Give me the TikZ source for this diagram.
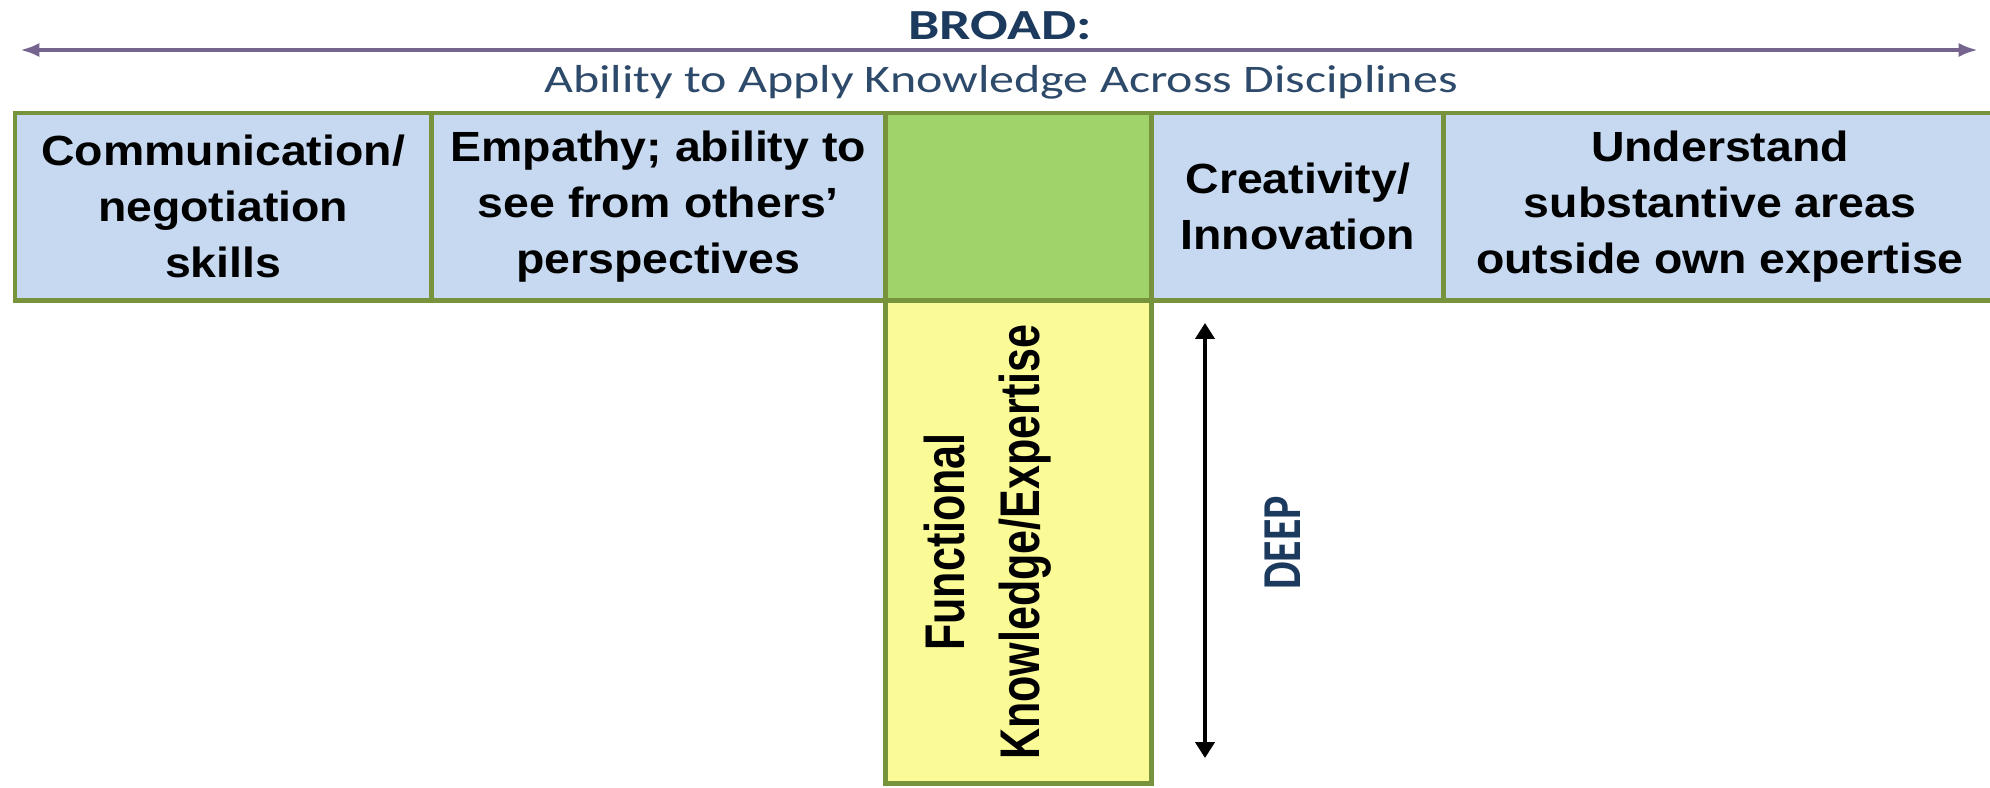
\documentclass[tikz,border=0pt]{standalone}
\usepackage{fontspec}
\usetikzlibrary{positioning,arrows.meta}
\newfontfamily\boxfont[FakeStretch=1.1]{Liberation Sans}
\newfontfamily\yellowfont[FakeStretch=0.77]{Liberation Sans}
\newfontfamily\deepfont[FakeStretch=0.8]{Carlito}
\newfontfamily\broadfont[FakeStretch=1.3]{Carlito}
\newfontfamily\abilityfont[FakeStretch=1.28]{Carlito}
\definecolor{rim}{HTML}{77933C}
\definecolor{skyfill}{HTML}{C6D9F0}
\definecolor{leaf}{HTML}{A0D36A}
\definecolor{lemon}{HTML}{FAFA96}
\definecolor{navy}{HTML}{1B3A5E}
\definecolor{slate}{HTML}{2E4A6A}
\definecolor{lilac}{HTML}{74648E}

\begin{document}
\begin{tikzpicture}[x=0.01cm,y=-0.01cm]
%\draw[help lines,step=100] (0,0) grid (1990,787);
\tikzstyle{v}=[rectangle,draw=rim,line width=1.4pt,outer sep=0pt,inner sep=0pt,minimum height=1.87cm,align=center,font=\boxfont\bfseries\fontsize{12}{15.9}\selectfont]
\tikzstyle{broad}=[{Latex[length=5.5pt,width=4pt]}-{Latex[length=5.5pt,width=4pt]},draw=lilac,line width=1.1pt]
\tikzstyle{deep}=[{Triangle[length=4.5pt,width=5.4pt]}-{Triangle[length=4.5pt,width=5.4pt]},line width=1pt]
\useasboundingbox (0,0) rectangle (1990,787);

\node[v,fill=skyfill,minimum width=4.16cm,anchor=north west] (a) at (15,113) {Communication/\\negotiation\\skills};
\node[v,fill=skyfill,minimum width=4.54cm,right=0pt of a] (b) {Empathy; ability to\\see from others’\\perspectives};
\node[v,fill=leaf,minimum width=2.66cm,right=0pt of b] (c) {};
\node[v,fill=skyfill,minimum width=2.92cm,right=0pt of c] (d) {Creativity/\\Innovation};
\node[v,fill=skyfill,minimum width=5.52cm,right=0pt of d] (e) {Understand\\substantive areas\\outside own expertise};
\node[v,fill=lemon,minimum width=2.66cm,minimum height=4.83cm,below=0pt of c] (f) {};

\node[rotate=90,align=center,font=\yellowfont\bfseries\fontsize{15.9}{21.3}\selectfont] (g) at (988,542) {Functional\\Knowledge/Expertise};
\node[rotate=90,anchor=base,text=navy,font=\deepfont\bfseries\fontsize{15.6}{18}\selectfont] (h) at (1300,543) {DEEP};

\coordinate (p) at (1205,323);
\coordinate (q) at (1205,758);
\path (p) edge[deep] (q);

\coordinate (l) at (20,50);
\coordinate (r) at (1978,50);
\path (l) edge[broad] (r);
\node[anchor=base,text=navy,font=\broadfont\bfseries\fontsize{12.2}{14}\selectfont] (t) at (1000,39) {BROAD:};
\node[anchor=base,text=slate,font=\abilityfont\fontsize{11.1}{13}\selectfont] (s) at (1001,92) {Ability to Apply Knowledge Across Disciplines};
\end{tikzpicture}
\end{document}
